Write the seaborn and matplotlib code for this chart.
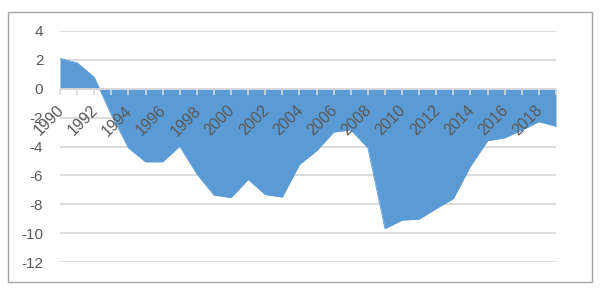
import matplotlib
matplotlib.use("Agg")
import matplotlib.pyplot as plt
import matplotlib.transforms as mtransforms
from matplotlib.patches import Rectangle
import seaborn as sns
import pandas as pd

years = list(range(1990, 2020))
values = [2.1, 1.8, 0.8, -1.8, -4.1, -5.06, -5.06, -3.98, -5.9, -7.36,
          -7.54, -6.28, -7.33, -7.5, -5.24, -4.3, -3.0, -2.85, -4.09, -9.68,
          -9.1, -9.03, -8.3, -7.6, -5.36, -3.6, -3.4, -2.87, -2.28, -2.6]
yticks = [-12, -10, -8, -6, -4, -2, 0, 2, 4]

df = pd.DataFrame({"year": years, "value": values})

sns.set_theme(style="white")
plt.rcParams['font.family'] = ['Liberation Sans', 'DejaVu Sans']

fig = plt.figure(figsize=(6, 2.9), dpi=100)
ax = fig.add_axes([60/600, (290-262)/290, (556-60)/600, (262-31)/290])
ax.set_axisbelow(False)

blue = "#5B9BD5"
grid_c = "#d9d9d9"
for t in yticks:
    ax.axhline(t, color=grid_c, lw=1.3, zorder=1)
ax.fill_between(df["year"], df["value"], 0, color=blue, lw=0, zorder=2)
sns.lineplot(data=df, x="year", y="value", ax=ax, color=blue, lw=0.6, zorder=2)
ax.axhline(0, color=grid_c, lw=1.3, zorder=2.6)

ax.set_xlim(1990, 2019)
ax.set_ylim(-12, 4)
ax.set_yticks(yticks)
ax.set_yticklabels([str(t) for t in yticks])
ax.grid(False)

ax.set_xticks(years)
ax.set_xticklabels([str(y) if y % 2 == 0 else "" for y in years])

for s in ["top", "right", "left", "bottom"]:
    ax.spines[s].set_visible(False)
ax.spines["bottom"].set_position(("data", 0))

ax.tick_params(axis="x", direction="out", length=4.5, width=1.2, color=grid_c,
               labelsize=11.5, labelcolor="#595959", pad=9.5, bottom=True)
ax.tick_params(axis="y", length=0, labelsize=11, labelcolor="#595959", pad=12)

offset = mtransforms.ScaledTranslation(1.5/100, 0, fig.dpi_scale_trans)
for lbl in ax.get_xticklabels():
    lbl.set_rotation(45)
    lbl.set_ha("right")
    lbl.set_va("center")
    lbl.set_rotation_mode("anchor")
    lbl.set_transform(lbl.get_transform() + offset)

ax.set_xlabel("")
ax.set_ylabel("")

border = Rectangle((8/600, (290-282)/290), 584/600, 270/290, transform=fig.transFigure,
                   fill=False, edgecolor="#a6a6a6", lw=1.0)
fig.add_artist(border)

fig.savefig("out.png", dpi=100)
